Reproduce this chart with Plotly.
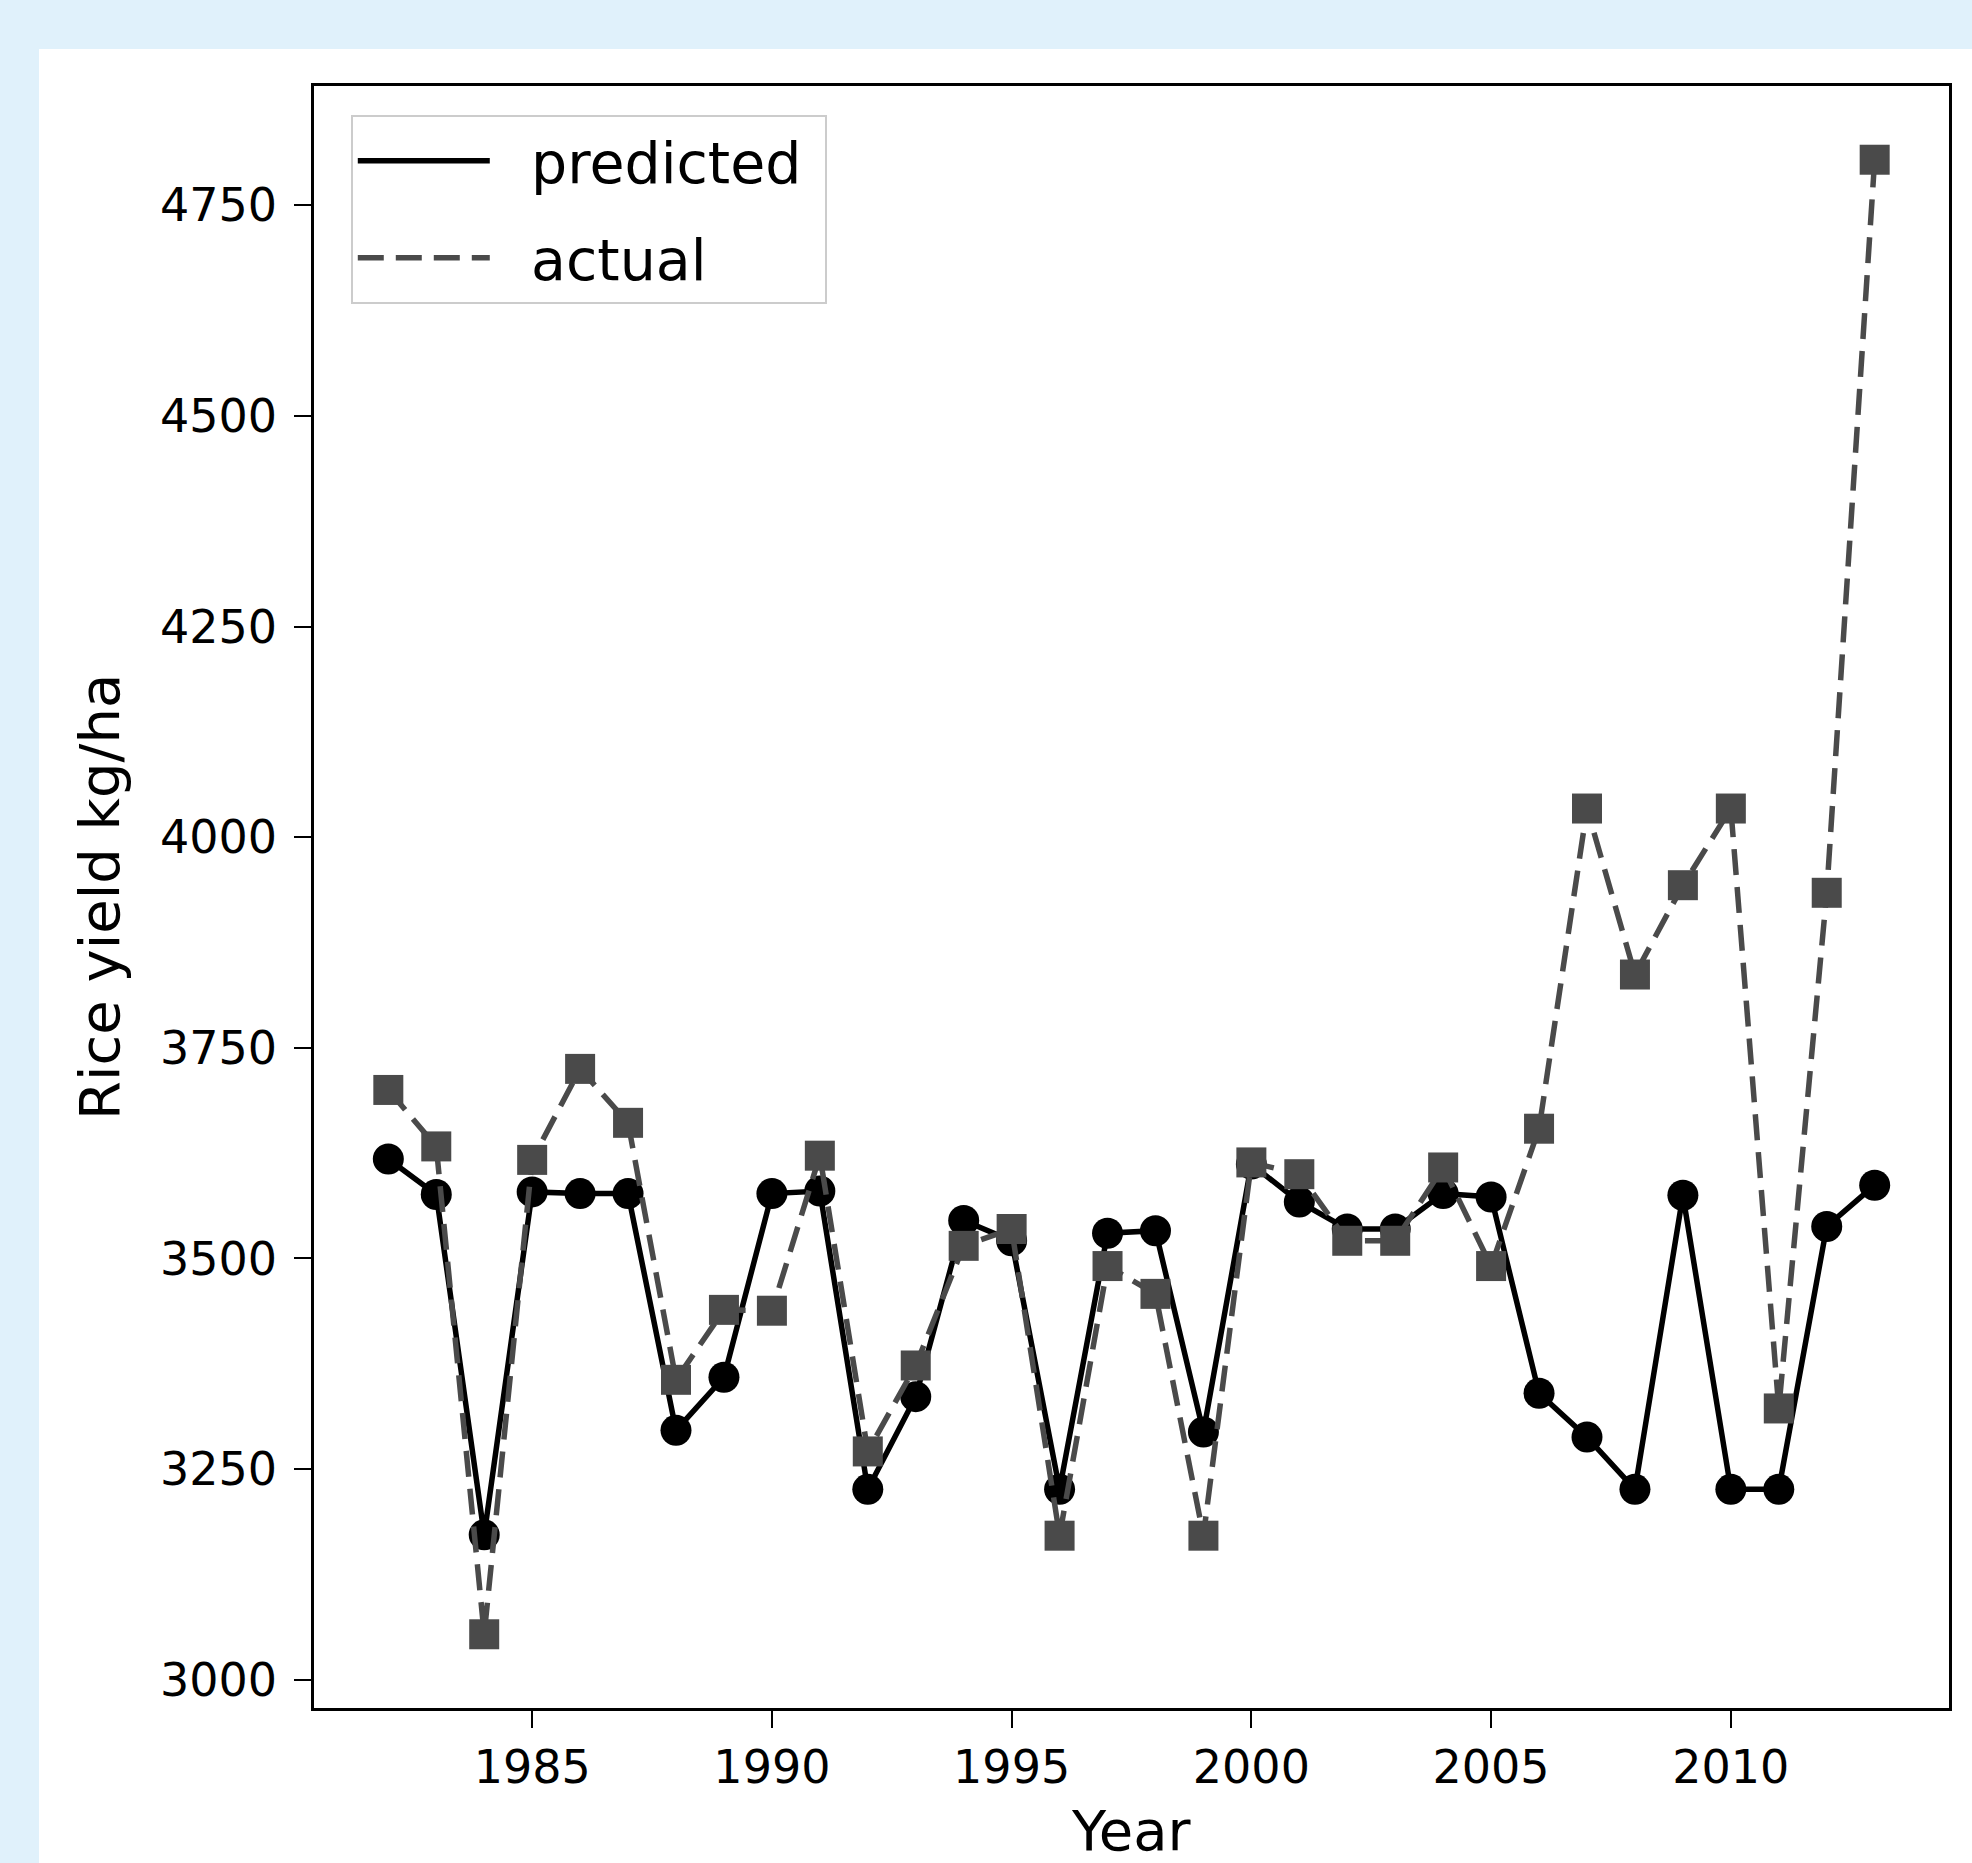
import plotly.graph_objects as go

years = list(range(1982, 2014))
predicted = [3618, 3576, 3172, 3579, 3577, 3577, 3296, 3359, 3577, 3580,
             3226, 3336, 3545, 3521, 3226, 3530, 3533, 3294, 3612, 3567,
             3535, 3535, 3577, 3573, 3340, 3288, 3226, 3575, 3226, 3226,
             3538, 3587]
actual = [3700, 3633, 3054, 3617, 3725, 3661, 3356, 3439, 3438, 3622,
          3271, 3373, 3515, 3535, 3171, 3491, 3458, 3171, 3614, 3600,
          3521, 3521, 3608, 3491, 3654, 4034, 3837, 3943, 4034, 3322,
          3934, 4804]
x_ticks = [1985, 1990, 1995, 2000, 2005, 2010]
y_ticks = [3000, 3250, 3500, 3750, 4000, 4250, 4500, 4750]

FONT = "DejaVu Sans"
GRAY = "#4a4a4a"
NB = "\u00a0"

# matplotlib-like 5% margins
ally = predicted + actual
ylo, yhi = min(ally), max(ally)
ypad = 0.05 * (yhi - ylo)
xlo, xhi = min(years), max(years)
xpad = 0.05 * (xhi - xlo)

fig = go.Figure()
fig.add_trace(go.Scatter(x=years, y=predicted, mode="lines+markers", name="predicted",
                         line=dict(color="black", width=5.5),
                         marker=dict(symbol="circle", size=31, color="black"),
                         showlegend=False))
fig.add_trace(go.Scatter(x=years, y=actual, mode="lines+markers", name="actual",
                         line=dict(color=GRAY, width=5.5, dash="26px,12px"),
                         marker=dict(symbol="square", size=30, color=GRAY),
                         showlegend=False))
# legend entries (lines only, as in the reference)
fig.add_trace(go.Scatter(x=[None], y=[None], mode="lines", name=NB * 2 + "predicted" + NB,
                         line=dict(color="black", width=5.5), legendgroup="a"))
fig.add_trace(go.Scatter(x=[None], y=[None], mode="lines", name=NB * 2 + "actual",
                         line=dict(color=GRAY, width=5.5, dash="26px,12px"), legendgroup="b"))

axis_common = dict(showline=True, linecolor="black", linewidth=2.5, mirror=True,
                   ticks="outside", ticklen=17, tickwidth=2, tickcolor="black",
                   showgrid=False, zeroline=False,
                   tickfont=dict(family=FONT, size=46, color="black"))

fig.update_xaxes(range=[xlo - xpad, xhi + xpad], tickvals=x_ticks,
                 ticktext=[str(v) for v in x_ticks], ticklabelstandoff=0, **axis_common)
fig.update_yaxes(range=[ylo - ypad, yhi + ypad], tickvals=y_ticks,
                 ticktext=[str(v) for v in y_ticks], ticklabelstandoff=8, **axis_common)

fig.update_layout(
    width=1972, height=1863,
    margin=dict(l=314, r=23, t=86, b=155, autoexpand=False),
    paper_bgcolor="#e0f1fb", plot_bgcolor="white",
    font=dict(family=FONT, color="black"),
    legend=dict(x=0.0225, y=0.982, xanchor="left", yanchor="top",
                bgcolor="white", bordercolor="#cccccc", borderwidth=2,
                font=dict(family=FONT, size=57, color="black"),
                itemwidth=132, traceorder="grouped", tracegroupgap=20),
    shapes=[dict(type="rect", xref="paper", yref="paper",
                 x0=-0.1682, x1=1.03, y0=-0.11, y1=1.0228,
                 fillcolor="white", line=dict(width=0), layer="below")],
    annotations=[
        dict(text="Rice yield kg/ha", xref="paper", yref="paper", x=-0.1315, y=0.5,
             xanchor="center", yanchor="middle", textangle=-90, showarrow=False,
             font=dict(family=FONT, size=56, color="black")),
        dict(text="Year", xref="paper", yref="paper", x=0.5, y=-0.0755,
             xanchor="center", yanchor="middle", showarrow=False,
             font=dict(family=FONT, size=56, color="black")),
    ],
)

fig.write_html("out.html", config={"displayModeBar": False},
               post_script="document.body.style.margin='0';document.body.style.padding='0';")
